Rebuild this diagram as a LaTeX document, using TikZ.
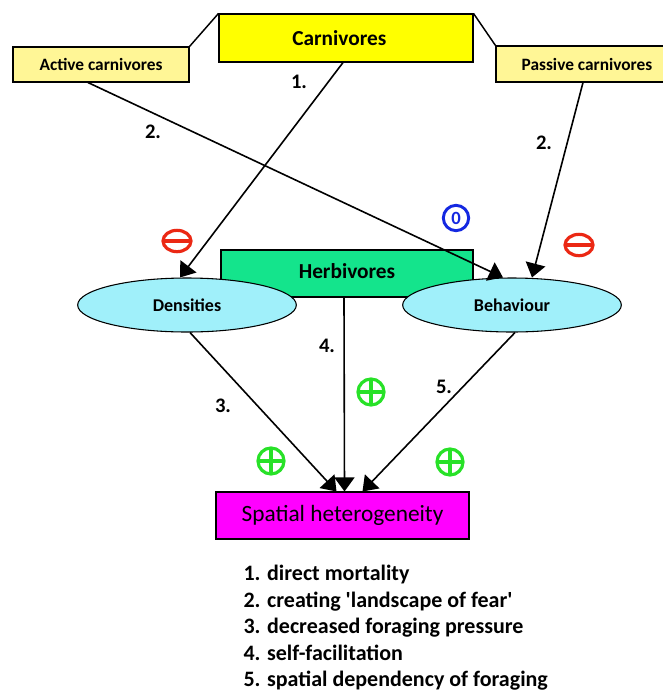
\documentclass[tikz,border=0pt]{standalone}
\usepackage{fontspec}
\setmainfont{Carlito}
\usetikzlibrary{arrows.meta,shapes.geometric}

\definecolor{carnyellow}{RGB}{255,255,0}
\definecolor{paleyellow}{RGB}{255,246,150}
\definecolor{herbgreen}{RGB}{20,228,140}
\definecolor{ellcyan}{RGB}{160,240,250}
\definecolor{spatmag}{RGB}{255,0,255}
\definecolor{minred}{RGB}{235,40,20}
\definecolor{zeroblue}{RGB}{20,40,225}
\definecolor{plusgreen}{RGB}{40,225,40}

\tikzset{every picture/.style={line width=0.75pt}}
\tikzset{
  box/.style={draw=black, line width=0.8pt, inner sep=0pt, font=\bfseries\fontsize{16}{18}\selectfont},
  smallbox/.style={box, fill=paleyellow, font=\bfseries\fontsize{13}{15}\selectfont},
  ell/.style={ellipse, draw=black, line width=0.8pt, fill=ellcyan, inner sep=0pt,
    minimum width=164pt, minimum height=40.5pt, font=\bfseries\fontsize{13.5}{15}\selectfont},
  num/.style={font=\bfseries\fontsize{15.5}{17}\selectfont, inner sep=1pt},
  link/.style={line width=1.1pt},
  arr/.style={line width=1.2pt, -{Triangle[length=10.5pt,width=15pt]}},
  plussign/.style={circle, draw=plusgreen, line width=2.4pt, minimum size=19.5pt, inner sep=0pt,
    path picture={\draw[plusgreen, line width=2.6pt] (path picture bounding box.north) -- (path picture bounding box.south) (path picture bounding box.west) -- (path picture bounding box.east);}},
  minussign/.style={ellipse, draw=minred, line width=2.4pt, minimum width=21pt, minimum height=16pt, inner sep=0pt,
    path picture={\draw[minred, line width=3pt] (path picture bounding box.west) -- (path picture bounding box.east);}},
  zerosign/.style={circle, draw=zeroblue, line width=2.2pt, minimum size=19pt, inner sep=0pt, text=zeroblue,
    font=\bfseries\fontsize{14}{14}\selectfont}
}

\begin{document}
\begin{tikzpicture}[x=0.75pt,y=0.75pt,yscale=-1,xscale=1]
\useasboundingbox (0,0) rectangle (662,693);

% carnivores
\draw (346,38) node [box, fill=carnyellow, minimum width=190.5pt, minimum height=36pt] (carn) {\hspace*{-10pt}Carnivores};
\draw (101,64.5) node [smallbox, minimum width=132pt, minimum height=26.25pt] (act) {Active carnivores};
\draw (587,64) node [smallbox, minimum width=136.5pt, minimum height=27pt] (pass) {Passive carnivores};
\draw [link] (carn.north west) -- (act.north east);
\draw [link] (carn.north east) -- (pass.north west);

% herbivores
\draw (347,273.5) node [box, fill=herbgreen, minimum width=189pt, minimum height=35.25pt] (herb) {\raisebox{3pt}{Herbivores}};
\draw (187,305) node [ell] (dens) {Densities};
\draw (512,305) node [ell] (beh) {Behaviour};

% spatial heterogeneity
\draw (342.5,515.5) node [box, fill=spatmag, minimum width=189.75pt, minimum height=35.25pt, font=\fontsize{17.5}{19}\selectfont] (spat) {Spatial heterogeneity};

% arrows
\draw [arr] ([xshift=-2.25pt]carn.south) -- ([xshift=-5.25pt]dens.north);
\draw [arr] ([xshift=-9.75pt]act.south) -- ([xshift=-6.75pt]beh.north);
\draw [arr] ([xshift=-3pt]pass.south) -- ([xshift=15pt]beh.north);
\draw [arr] ([xshift=2.25pt]dens.south) -- ([xshift=-4.5pt]spat.north);
\draw [arr] ([xshift=-2.25pt]herb.south) -- ([xshift=1.5pt]spat.north);
\draw [arr] ([xshift=2.25pt]beh.south) -- ([xshift=15pt]spat.north);

% numbers
\draw (299,82) node [num] (n1) {1.};
\draw (153,132) node [num] (n2a) {2.};
\draw (544,143) node [num] (n2b) {2.};
\draw (223,406) node [num] (n3) {3.};
\draw (327,346) node [num] (n4) {4.};
\draw (444,387) node [num] (n5) {5.};

% signs
\draw (177,241) node [minussign] (m1) {};
\draw (579,245) node [minussign] (m2) {};
\draw (456,218) node [zerosign] (z1) {0};
\draw (371,392) node [plussign] (p1) {};
\draw (271,461) node [plussign] (p2) {};
\draw (450,462) node [plussign] (p3) {};

% legend
\draw (243,565) node [anchor=north west, align=left, inner sep=0pt, font=\bfseries\fontsize{16.5}{19.8}\selectfont] (legend)
  {1. direct mortality\\2. creating \textquotesingle landscape of fear\textquotesingle\\3. decreased foraging pressure\\4. self-facilitation\\5. spatial dependency of foraging};

\end{tikzpicture}
\end{document}
